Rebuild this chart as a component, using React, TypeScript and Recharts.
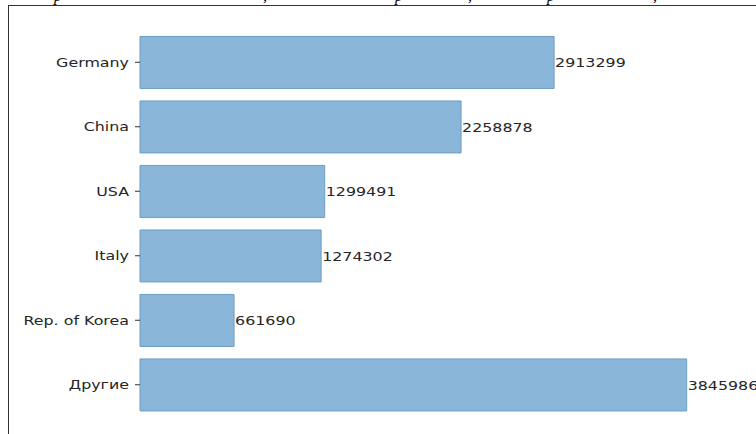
import React from 'react'
import { BarChart, Bar, XAxis, YAxis, LabelList } from 'recharts'

const categories = ['Germany', 'China', 'USA', 'Italy', 'Rep. of Korea', 'Другие']
const values = [2913299, 2258878, 1299491, 1274302, 661690, 3845986]

// matplotlib adds a 5% margin past the largest bar
const xMax = Math.max(...values) * 1.05

const data = categories.map((name, i) => ({ name, value: values[i] }))

const STRETCH = 1.22
const FONT = '"DejaVu Sans", sans-serif'

const CategoryTick = (props: any) => {
  const { x, y, payload } = props
  return (
    <g transform={`translate(${x},${y}) scale(${STRETCH},1)`}>
      <text x={0} y={0} dy="0.36em" textAnchor="end" fontFamily={FONT} fontSize={13} fill="#262626">
        {payload.value}
      </text>
    </g>
  )
}

const ValueLabel = (props: any) => {
  const { x, y, width, height, value } = props
  return (
    <g transform={`translate(${x + width + 1},${y + height / 2}) scale(${STRETCH},1)`}>
      <text x={0} y={0} dy="0.36em" textAnchor="start" fontFamily={FONT} fontSize={13} fill="#262626">
        {value}
      </text>
    </g>
  )
}

// descenders of the cut-off caption line above the frame
const captionBits = [
  { ch: 'р', x: 54 },
  { ch: ',', x: 263 },
  { ch: 'р', x: 395 },
  { ch: ',', x: 468 },
  { ch: 'р', x: 547 },
  { ch: ',', x: 653 },
]

export default function App() {
  return (
    <div
      style={{
        position: 'absolute',
        left: 0,
        top: 0,
        width: 756,
        height: 434,
        background: '#fff',
        overflow: 'hidden',
      }}
    >
      <svg width={756} height={8} style={{ position: 'absolute', left: 0, top: 0 }}>
        {captionBits.map((b, i) => (
          <text key={i} x={b.x} y={0.5} fontFamily='"Liberation Serif", serif' fontStyle="italic" fontSize={16} fill="#000">
            {b.ch}
          </text>
        ))}
      </svg>
      <div
        style={{
          position: 'absolute',
          left: 8,
          top: 5,
          width: 760,
          height: 440,
          borderTop: '1.5px solid #333',
          borderLeft: '1.5px solid #333',
        }}
      />
      <div style={{ position: 'absolute', left: 0, top: 0 }}>
        <BarChart
          width={756}
          height={434}
          data={data}
          layout="vertical"
          margin={{ top: 30, right: 42, bottom: 17, left: 0 }}
          barCategoryGap="10%"
        >
          <XAxis type="number" domain={[0, xMax]} hide />
          <YAxis
            type="category"
            dataKey="name"
            width={140}
            axisLine={false}
            tickLine={{ stroke: '#333' }}
            tickSize={5}
            tickMargin={6}
            tick={<CategoryTick />}
            interval={0}
          />
          <Bar dataKey="value" fill="#89b6d9" stroke="#6f9dc3" strokeWidth={1} isAnimationActive={false}>
            <LabelList dataKey="value" content={<ValueLabel />} />
          </Bar>
        </BarChart>
      </div>
    </div>
  )
}
